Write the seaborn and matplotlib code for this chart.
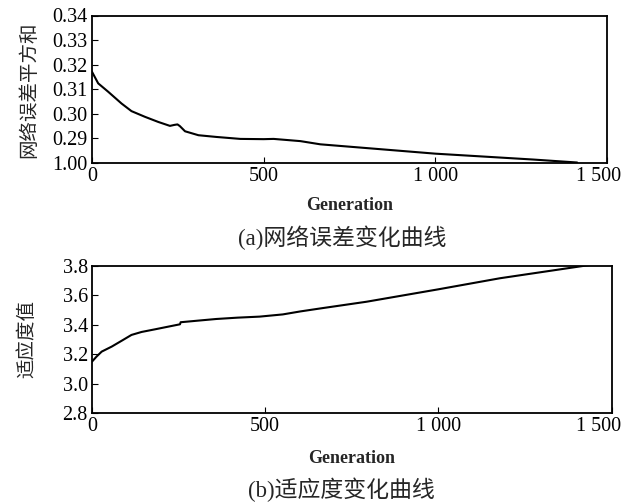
import numpy as np
import pandas as pd
import matplotlib
matplotlib.use("Agg")
import matplotlib.pyplot as plt
import matplotlib.transforms as mtransforms
import seaborn as sns

# Data
gen_a = [0, 18, 47, 86, 115, 154, 193, 227, 240, 249, 256, 271, 310, 362, 432, 500, 529,
         607, 665, 1000, 1286, 1413]
err_a = [0.3171, 0.3124, 0.3090, 0.3042, 0.3011, 0.2988, 0.2967, 0.2951, 0.2955, 0.2957, 0.2950,
         0.2929, 0.2913, 0.2906, 0.2898, 0.2897, 0.2898, 0.2889, 0.2876, 0.2838, 0.2814, 0.2802]
gen_b = [0, 13, 28, 57, 86, 114, 143, 182, 220, 254, 256, 307, 359, 420, 484, 551, 601, 658,
         793, 1000, 1178, 1423, 1440]
fit_b = [3.150, 3.184, 3.218, 3.252, 3.292, 3.331, 3.351, 3.369, 3.387, 3.403, 3.417, 3.428,
         3.439, 3.448, 3.455, 3.470, 3.490, 3.510, 3.556, 3.640, 3.715, 3.800, 3.805]

xticks = [0, 500, 1000, 1500]
xticklabels = ["0", "500", "1 000", "1 500"]
yticks_a = [0.28, 0.29, 0.30, 0.31, 0.32, 0.33, 0.34]
yticklabels_a = ["1.00", "0.29", "0.30", "0.31", "0.32", "0.33", "0.34"]
yticks_b = [2.8, 3.0, 3.2, 3.4, 3.6, 3.8]
yticklabels_b = ["2.8", "3.0", "3.2", "3.4", "3.6", "3.8"]

sns.set_style("ticks")
fam = ["Liberation Serif", "Noto Sans CJK SC"]
plt.rcParams["font.family"] = fam
plt.rcParams["xtick.direction"] = "in"
plt.rcParams["ytick.direction"] = "in"

W, H = 632, 503
fig = plt.figure(figsize=(W / 100, H / 100), dpi=100)

def rect(l, r, t, b):
    return [l / W, 1 - b / H, (r - l) / W, (b - t) / H]

ax1 = fig.add_axes(rect(92, 607, 15.5, 163))
ax2 = fig.add_axes(rect(92, 611.5, 265.7, 413.3))

df_a = pd.DataFrame({"gen": gen_a, "err": err_a})
df_b = pd.DataFrame({"gen": gen_b, "fit": fit_b})
sns.lineplot(data=df_a, x="gen", y="err", ax=ax1, color="black", lw=1.5)
sns.lineplot(data=df_b, x="gen", y="fit", ax=ax2, color="black", lw=1.5)

ax1.set_xlim(0, 1500)
ax1.set_ylim(0.28, 0.34)
ax1.set_yticks(yticks_a)
ax1.set_yticklabels(yticklabels_a)
ax2.set_xlim(0, 1500)
ax2.set_ylim(2.8, 3.8)
ax2.set_yticks(yticks_b)
ax2.set_yticklabels(yticklabels_b)

for ax, shift, lp in ((ax1, -8, 8), (ax2, -13, 10)):
    ax.set_xticks(xticks)
    ax.set_xticklabels(xticklabels)
    ax.tick_params(labelsize=14.5, length=4, width=0.8, pad=3, colors="black")
    for s in ax.spines.values():
        s.set_visible(True)
        s.set_linewidth(1.3)
        s.set_color("black")
    ax.set_xlabel("Generation", fontsize=13, fontweight="bold", labelpad=lp)
    last = ax.get_xticklabels()[-1]
    last.set_transform(last.get_transform() + mtransforms.ScaledTranslation(shift / 100, 0, fig.dpi_scale_trans))

ax1.set_ylabel("网络误差平方和", fontsize=14, labelpad=10)
ax2.set_ylabel("适应度值", fontsize=14, labelpad=19)

fig.text(342 / W, 1 - 238 / H, "(a)网络误差变化曲线", ha="center", va="center", fontsize=16.5, family=fam)
fig.text(341 / W, 1 - 490 / H, "(b)适应度变化曲线", ha="center", va="center", fontsize=16.5, family=fam)

fig.savefig("out.png", dpi=100, facecolor="white")
